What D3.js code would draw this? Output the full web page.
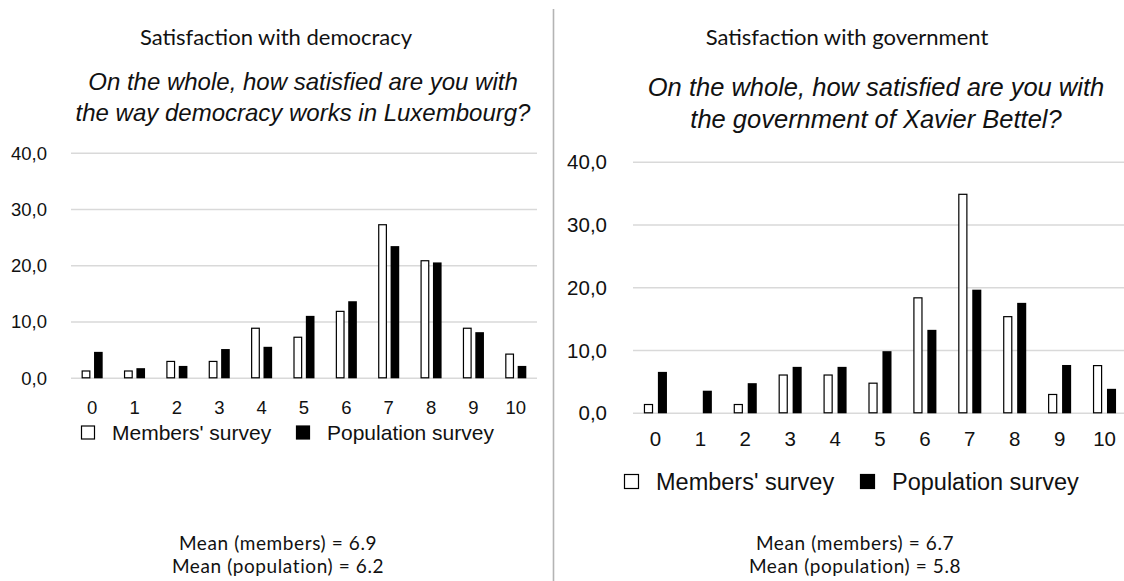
<!DOCTYPE html>
<html>
<head>
<meta charset="utf-8">
<script src="https://cdn.jsdelivr.net/npm/d3@7"></script>
<style>
  html, body { margin: 0; padding: 0; background: #fff; }
  svg { display: block; }
</style>
</head>
<body>
<svg id="chart" width="1124" height="581"></svg>
<script>
// ---- Data ----
const categories = ["0", "1", "2", "3", "4", "5", "6", "7", "8", "9", "10"];
const seriesNames = ["Members' survey", "Population survey"];
const yTicks = [0, 10, 20, 30, 40];

const democracyMembers    = [1.3, 1.3, 3.0, 3.0, 8.9, 7.3, 11.9, 27.3, 20.9, 8.9, 4.3];
const democracyPopulation = [4.7, 1.8, 2.2, 5.2, 5.6, 11.1, 13.7, 23.5, 20.6, 8.2, 2.2];
const governmentMembers    = [1.4, 0, 1.4, 6.1, 6.1, 4.8, 18.4, 34.9, 15.4, 3.0, 7.6];
const governmentPopulation = [6.6, 3.6, 4.8, 7.4, 7.4, 9.9, 13.3, 19.7, 17.6, 7.7, 3.9];

const panelTitles = ["Satisfaction with democracy", "Satisfaction with government"];
const questionLines = [
  ["On the whole, how satisfied are you with", "the way democracy works in Luxembourg?"],
  ["On the whole, how satisfied are you with", "the government of Xavier Bettel?"]
];
const meanLines = [
  ["Mean (members) = 6.9", "Mean (population) = 6.2"],
  ["Mean (members) = 6.7", "Mean (population) = 5.8"]
];

// ---- Layout ----
const svg = d3.select("#chart");
const titleFont = "Lato, 'Open Sans', sans-serif";
const chartFont = "'Liberation Sans', Arial, Helvetica, sans-serif";
const fmt = d => d3.format(".1f")(d).replace(".", ",");

// divider
svg.append("line")
  .attr("x1", 553.5).attr("x2", 553.5).attr("y1", 9).attr("y2", 581)
  .attr("stroke", "#b4b4b4").attr("stroke-width", 1.6);

const panels = [
  {
    members: democracyMembers, population: democracyPopulation,
    x0: 71, x1: 537, yBase: 378.3, yTop: 153.3,
    yLabelX: 47, tickFont: 18.5, xLabelY: 408, legendY: 433, legendFont: 21,
    legendX: 81, legendGap: 215, sq: 14, pair: 21, barPad: 0.3,
    titleX: 276, titleY: 45, titleFont: 22,
    qX: 303, qY: [90, 121], qFont: 24,
    meanX: 278, meanY: [550, 573], meanFont: 19, title: 0
  },
  {
    members: governmentMembers, population: governmentPopulation,
    x0: 633, x1: 1127, yBase: 413.3, yTop: 162.3,
    yLabelX: 607, tickFont: 20.5, xLabelY: 439, legendY: 482, legendFont: 23.5,
    legendX: 624, legendGap: 236, sq: 15, pair: 23, barPad: 0.35,
    titleX: 847, titleY: 45, titleFont: 22,
    qX: 876, qY: [96, 128], qFont: 25.5,
    meanX: 855, meanY: [550, 573], meanFont: 19, title: 1
  }
];

panels.forEach(p => {
  const g = svg.append("g");

  const x = d3.scaleBand().domain(categories).range([p.x0, p.x1]).paddingInner(0).paddingOuter(0);
  const y = d3.scaleLinear().domain([0, 40]).range([p.yBase, p.yTop]);
  const xs = d3.scaleBand().domain(seriesNames)
    .range([-p.pair / 2, p.pair / 2]).paddingInner(p.barPad);

  // gridlines
  g.append("g").selectAll("line").data(yTicks).join("line")
    .attr("x1", p.x0).attr("x2", Math.min(p.x1, 1124))
    .attr("y1", d => y(d)).attr("y2", d => y(d))
    .attr("stroke", "#d9d9d9").attr("stroke-width", 1.6);

  // y axis labels via d3 axis
  const yAxis = d3.axisLeft(y).tickValues(yTicks).tickFormat(fmt).tickSize(0).tickPadding(0);
  const ya = g.append("g").attr("transform", `translate(${p.yLabelX},0)`).call(yAxis);
  ya.select(".domain").remove();
  ya.selectAll("text").attr("font-family", chartFont).attr("font-size", p.tickFont).attr("fill", "#111");

  // x axis labels
  const xAxis = d3.axisBottom(x).tickSize(0).tickPadding(0);
  const xa = g.append("g").attr("transform", `translate(0,${p.xLabelY})`).call(xAxis);
  xa.select(".domain").remove();
  xa.selectAll("text").attr("font-family", chartFont).attr("font-size", p.tickFont)
    .attr("fill", "#111").attr("dy", "0.35em");

  // bars
  const rows = categories.map((c, i) => ({ c, vals: [p.members[i], p.population[i]] }));
  const groups = g.append("g").selectAll("g").data(rows).join("g")
    .attr("transform", d => `translate(${x(d.c) + x.bandwidth() / 2},0)`);
  groups.selectAll("rect")
    .data(d => d.vals.map((v, k) => ({ v, k })).filter(e => e.v > 0))
    .join("rect")
    .attr("x", e => xs(seriesNames[e.k]) + (e.k === 0 ? 0.5 : 0))
    .attr("width", e => xs.bandwidth() - (e.k === 0 ? 1 : 0))
    .attr("y", e => y(e.v))
    .attr("height", e => y(0) - y(e.v) - (e.k === 0 ? 0.5 : 0))
    .attr("fill", e => e.k === 0 ? "#fff" : "#000")
    .attr("stroke", e => e.k === 0 ? "#000" : "none")
    .attr("stroke-width", 1.2);

  // legend
  const lg = g.append("g").attr("transform", `translate(${p.legendX},${p.legendY})`);
  const items = lg.selectAll("g").data(seriesNames).join("g")
    .attr("transform", (d, i) => `translate(${i * p.legendGap},0)`);
  items.append("rect")
    .attr("x", 0.5).attr("y", -p.sq / 2).attr("width", p.sq - 1).attr("height", p.sq - 1)
    .attr("fill", (d, i) => i === 0 ? "#fff" : "#000")
    .attr("stroke", "#000").attr("stroke-width", 1.2);
  items.append("text")
    .attr("x", p.sq + 17).attr("y", 0).attr("dy", "0.35em")
    .attr("font-family", chartFont).attr("font-size", p.legendFont).attr("fill", "#111")
    .text(d => d);

  // titles
  g.append("text").attr("x", p.titleX).attr("y", p.titleY).attr("text-anchor", "middle")
    .attr("font-family", titleFont).attr("font-size", p.titleFont).attr("fill", "#111")
    .text(panelTitles[p.title]);
  g.append("g").selectAll("text").data(questionLines[p.title]).join("text")
    .attr("x", p.qX).attr("y", (d, i) => p.qY[i]).attr("text-anchor", "middle")
    .attr("font-family", chartFont).attr("font-style", "italic")
    .attr("font-size", p.qFont).attr("fill", "#111")
    .text(d => d);
  g.append("g").selectAll("text").data(meanLines[p.title]).join("text")
    .attr("x", p.meanX).attr("y", (d, i) => p.meanY[i]).attr("text-anchor", "middle")
    .attr("font-family", titleFont).attr("font-size", p.meanFont)
    .attr("letter-spacing", 0.6).attr("fill", "#111")
    .text(d => d);
});
</script>
</body>
</html>
